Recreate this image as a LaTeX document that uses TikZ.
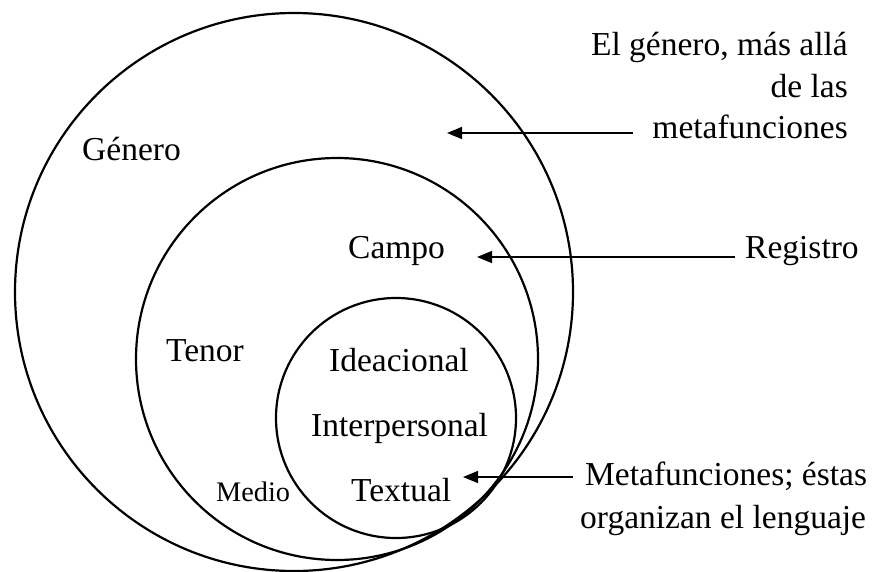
\documentclass[tikz,border=0pt]{standalone}
\usepackage{fontspec}
\setmainfont{Liberation Serif}
\usetikzlibrary{arrows.meta}
\begin{document}
\begin{tikzpicture}[x=1pt,y=-1pt,
  ring/.style={line width=2.2pt},
  arr/.style={line width=1.4pt,-{Triangle[length=15pt,width=12pt]}},
  lbl/.style={inner sep=0pt,font=\fontsize{33.5}{40}\selectfont},
  small/.style={inner sep=0pt,font=\fontsize{28.3}{34}\selectfont}]
\useasboundingbox[fill=white] (0,0) rectangle (873,571);
% circles
\draw[ring] (294,292) circle[radius=279pt];
\draw[ring] (337,359) circle[radius=201pt];
\draw[ring] (396,418) circle[radius=120pt];
% labels inside
\node[lbl,anchor=base west] (genero) at (82,160) {Género};
\node[lbl,anchor=base west] (campo) at (348,258) {Campo};
\node[lbl,anchor=base west] (tenor) at (166,361) {Tenor};
\node[lbl,anchor=base west] (idea) at (329,371) {Ideacional};
\node[lbl,anchor=base west] (inter) at (311,436) {Interpersonal};
\node[lbl,anchor=base west] (textual) at (351,501) {Textual};
\node[small,anchor=base west] (medio) at (216,501) {Medio};
% labels outside
\node[lbl,anchor=base east] (g1) at (848,55) {El género, más allá};
\node[lbl,anchor=base east] (g2) at (848,97) {de las};
\node[lbl,anchor=base east] (g3) at (848,138) {metafunciones};
\node[lbl,anchor=base west] (reg) at (745,258) {Registro};
\node[lbl,anchor=base west] (m1) at (585,485) {Metafunciones; éstas};
\node[lbl,anchor=base west] (m2) at (580,528) {organizan el lenguaje};
% arrow targets
\coordinate (tg) at (447,133);
\coordinate (tr) at (477,257);
\coordinate (tm) at (463,477);
\draw[arr,shorten <=19pt] (g3.west |- tg) -- (tg);
\draw[arr,shorten <=10pt] (reg.west |- tr) -- (tr);
\draw[arr,shorten <=12pt] (m1.west |- tm) -- (tm);
\end{tikzpicture}
\end{document}
